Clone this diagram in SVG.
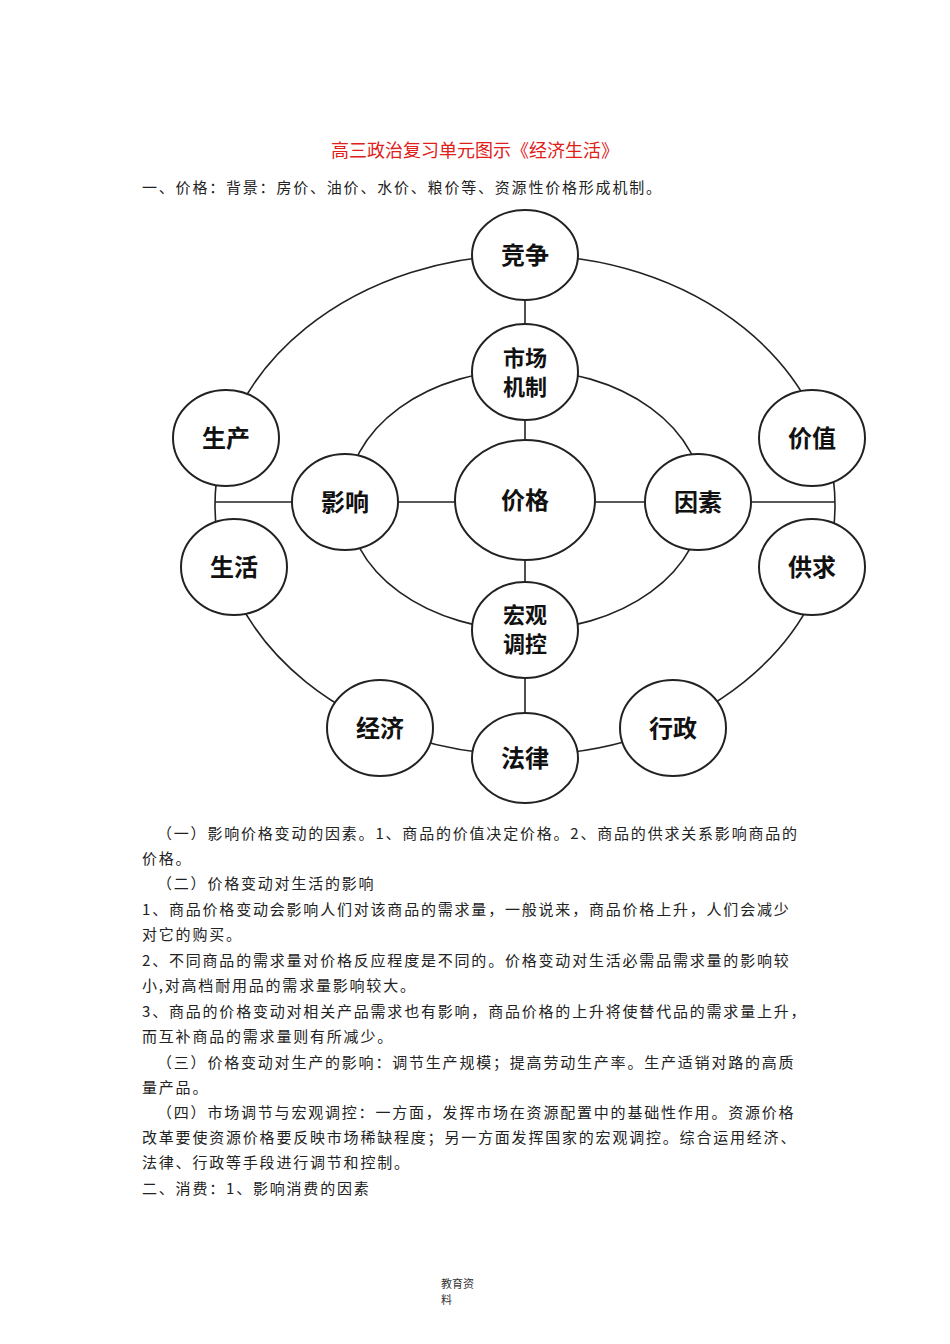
<svg xmlns="http://www.w3.org/2000/svg" width="950" height="1344" viewBox="0 0 950 1344">
<style>
text{font-family:"Noto Sans CJK SC","Noto Sans",sans-serif}
.b{font-size:15px;fill:#222;letter-spacing:1.8px}
.n ellipse{fill:#fff;stroke:#222;stroke-width:2}
.n text{font-size:24px;font-weight:bold;text-anchor:middle;fill:#111}
.n text.s{font-size:22px}
.c{fill:none;stroke:#222;stroke-width:1.6}
</style>
<rect width="950" height="1344" fill="#fff"/>
<text x="475" y="157" text-anchor="middle" style="font-size:18px;fill:#e0201a">高三政治复习单元图示《经济生活》</text>
<text class="b" x="142" y="193">一、价格：背景：房价、油价、水价、粮价等、资源性价格形成机制。</text>
<g id="connectors">
<ellipse class="c" cx="525" cy="505" rx="310" ry="250"/>
<ellipse class="c" cx="525" cy="500" rx="178" ry="130"/>
<line class="c" x1="525" y1="255" x2="525" y2="758"/>
<line class="c" x1="215" y1="502" x2="835" y2="502"/>
</g>
<g id="n-jingzheng" class="n"><ellipse cx="525" cy="255" rx="53" ry="45"/><text x="525" y="264">竞争</text></g>
<g id="n-shichang" class="n"><ellipse cx="525" cy="372" rx="53" ry="48"/><text class="s" x="525" y="366">市场</text><text class="s" x="525" y="395">机制</text></g>
<g id="n-jiage" class="n"><ellipse cx="525" cy="500" rx="70" ry="60"/><text x="525" y="509">价格</text></g>
<g id="n-yingxiang" class="n"><ellipse cx="345" cy="502" rx="53" ry="48"/><text x="345" y="511">影响</text></g>
<g id="n-yinsu" class="n"><ellipse cx="698" cy="502" rx="53" ry="48"/><text x="698" y="511">因素</text></g>
<g id="n-hongguan" class="n"><ellipse cx="525" cy="630" rx="53" ry="48"/><text class="s" x="525" y="623">宏观</text><text class="s" x="525" y="652">调控</text></g>
<g id="n-falv" class="n"><ellipse cx="525" cy="758" rx="53" ry="45"/><text x="525" y="767">法律</text></g>
<g id="n-shengchan" class="n"><ellipse cx="226" cy="438" rx="53" ry="48"/><text x="226" y="447">生产</text></g>
<g id="n-jiazhi" class="n"><ellipse cx="812" cy="438" rx="53" ry="48"/><text x="812" y="447">价值</text></g>
<g id="n-shenghuo" class="n"><ellipse cx="234" cy="567" rx="53" ry="48"/><text x="234" y="576">生活</text></g>
<g id="n-gongqiu" class="n"><ellipse cx="812" cy="567" rx="53" ry="48"/><text x="812" y="576">供求</text></g>
<g id="n-jingji" class="n"><ellipse cx="380" cy="728" rx="53" ry="48"/><text x="380" y="737">经济</text></g>
<g id="n-xingzheng" class="n"><ellipse cx="673" cy="728" rx="53" ry="48"/><text x="673" y="737">行政</text></g>
<text class="b" x="157" y="839">（一）影响价格变动的因素。1、商品的价值决定价格。2、商品的供求关系影响商品的</text>
<text class="b" x="142" y="864">价格。</text>
<text class="b" x="157" y="889">（二）价格变动对生活的影响</text>
<text class="b" x="142" y="915">1、商品价格变动会影响人们对该商品的需求量，一般说来，商品价格上升，人们会减少</text>
<text class="b" x="142" y="940">对它的购买。</text>
<text class="b" x="142" y="966">2、不同商品的需求量对价格反应程度是不同的。价格变动对生活必需品需求量的影响较</text>
<text class="b" x="142" y="991">小,对高档耐用品的需求量影响较大。</text>
<text class="b" x="142" y="1017">3、商品的价格变动对相关产品需求也有影响，商品价格的上升将使替代品的需求量上升，</text>
<text class="b" x="142" y="1042">而互补商品的需求量则有所减少。</text>
<text class="b" x="157" y="1068">（三）价格变动对生产的影响：调节生产规模；提高劳动生产率。生产适销对路的高质</text>
<text class="b" x="142" y="1093">量产品。</text>
<text class="b" x="157" y="1118">（四）市场调节与宏观调控：一方面，发挥市场在资源配置中的基础性作用。资源价格</text>
<text class="b" x="142" y="1143">改革要使资源价格要反映市场稀缺程度；另一方面发挥国家的宏观调控。综合运用经济、</text>
<text class="b" x="142" y="1168">法律、行政等手段进行调节和控制。</text>
<text class="b" x="142" y="1194">二、消费：1、影响消费的因素</text>
<text x="441" y="1288" style="font-size:11px;fill:#333">教育资</text>
<text x="441" y="1304" style="font-size:11px;fill:#333">料</text>
</svg>
